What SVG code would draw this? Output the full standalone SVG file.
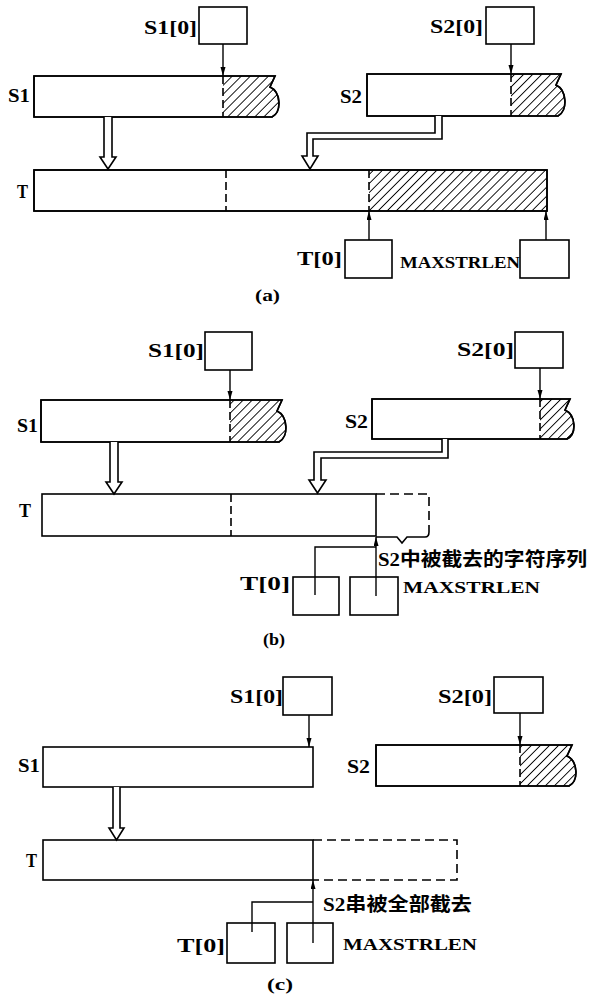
<svg xmlns="http://www.w3.org/2000/svg" width="589" height="997" viewBox="0 0 589 997">
<style>
.box{fill:#fff;stroke:#000;stroke-width:1.6}
.edge{fill:none;stroke:#000;stroke-width:1.6}
.hatch{fill:url(#hatch);stroke:none}
.div{fill:none;stroke:#000;stroke-width:1.6;stroke-dasharray:8 4}
.dash{fill:none;stroke:#000;stroke-width:1.6;stroke-dasharray:9 5}
.ptr{fill:none;stroke:#000;stroke-width:1.4}
.ptra{fill:none;stroke:#000;stroke-width:1.4;marker-end:url(#ah)}
.hollow{fill:#fff;stroke:#000;stroke-width:1.6;stroke-linejoin:miter}
.lbl{font-family:"Liberation Serif","Noto Sans CJK SC",serif;font-weight:bold;font-size:18px;fill:#000}
.big{font-size:16px}
.cjk{font-family:"Liberation Serif","Noto Sans CJK SC",sans-serif;font-weight:bold;font-size:19px;fill:#000}
.cap{font-family:"Liberation Serif",serif;font-weight:bold;font-size:16px;fill:#000}
</style>
<defs>
<pattern id="hatch" patternUnits="userSpaceOnUse" width="6.4" height="10" patternTransform="rotate(45)">
<line x1="0" y1="0" x2="0" y2="10" stroke="#000" stroke-width="1.8"/>
</pattern>
<marker id="ah" markerUnits="userSpaceOnUse" markerWidth="10" markerHeight="6" refX="9" refY="2.5" orient="auto">
<path d="M0,0 L9,2.5 L0,5 Z" fill="#000"/>
</marker>
</defs>

<!-- ===== Panel (a) ===== -->
<g id="a-S1">
<path class="box" d="M34,76 H275 L270,87 C281,92 282,112 272,117 H34 Z"/>
<path class="hatch" d="M223,76 H275 L270,87 C281,92 282,112 272,117 H223 Z"/>
<path class="edge" d="M34,76 H275 L270,87 C281,92 282,112 272,117 H34 Z"/>
<line class="div" x1="223" y1="76" x2="223" y2="117"/>
<text class="lbl" x="8" y="102" textLength="22" lengthAdjust="spacingAndGlyphs">S1</text>
</g>
<g id="a-S1ptr">
<rect class="box" x="199" y="7" width="48" height="37"/>
<text class="lbl" x="144" y="34" textLength="53" lengthAdjust="spacingAndGlyphs">S1[0]</text>
</g>
<g id="a-S2">
<path class="box" d="M367,74 H561 L556,85 C567,90 568,111 558,116 H367 Z"/>
<path class="hatch" d="M511,74 H561 L556,85 C567,90 568,111 558,116 H511 Z"/>
<path class="edge" d="M367,74 H561 L556,85 C567,90 568,111 558,116 H367 Z"/>
<line class="div" x1="511" y1="74" x2="511" y2="116"/>
<text class="lbl" x="340" y="103" textLength="22" lengthAdjust="spacingAndGlyphs">S2</text>
</g>
<g id="a-S2ptr">
<rect class="box" x="486" y="7" width="48" height="37"/>
<text class="lbl" x="430" y="33" textLength="53" lengthAdjust="spacingAndGlyphs">S2[0]</text>
</g>
<g id="a-T">
<rect class="box" x="34" y="170" width="513" height="41"/>
<rect class="hatch" x="369" y="170" width="178" height="41"/>
<rect class="edge" x="34" y="170" width="513" height="41"/>
<line class="div" x1="226" y1="170" x2="226" y2="211"/>
<line class="div" x1="369" y1="170" x2="369" y2="211"/>
<text class="lbl" x="17" y="198" textLength="11" lengthAdjust="spacingAndGlyphs">T</text>
</g>
<g id="a-T0">
<rect class="box" x="345" y="240" width="47" height="38"/>
<text class="lbl" x="297" y="265" textLength="45" lengthAdjust="spacingAndGlyphs">T[0]</text>
</g>
<g id="a-MAX">
<rect class="box" x="520" y="240" width="49" height="38"/>
<text class="lbl big" x="400" y="268" textLength="120" lengthAdjust="spacingAndGlyphs">MAXSTRLEN</text>
</g>
<text class="cap" x="255" y="301" textLength="25" lengthAdjust="spacingAndGlyphs">(a)</text>

<!-- ===== Panel (b) ===== -->
<g id="b-S1">
<path class="box" d="M41,400 H282 L277,411 C288,416 289,437 279,442 H41 Z"/>
<path class="hatch" d="M230,400 H282 L277,411 C288,416 289,437 279,442 H230 Z"/>
<path class="edge" d="M41,400 H282 L277,411 C288,416 289,437 279,442 H41 Z"/>
<line class="div" x1="230" y1="400" x2="230" y2="442"/>
<text class="lbl" x="17" y="432" textLength="21" lengthAdjust="spacingAndGlyphs">S1</text>
</g>
<g id="b-S1ptr">
<rect class="box" x="205" y="332" width="47" height="38"/>
<text class="lbl" x="148" y="357" textLength="56" lengthAdjust="spacingAndGlyphs">S1[0]</text>
</g>
<g id="b-S2">
<path class="box" d="M372,399 H570 L565,410 C576,415 577,434 567,439 H372 Z"/>
<path class="hatch" d="M540,399 H570 L565,410 C576,415 577,434 567,439 H540 Z"/>
<path class="edge" d="M372,399 H570 L565,410 C576,415 577,434 567,439 H372 Z"/>
<line class="div" x1="540" y1="399" x2="540" y2="439"/>
<text class="lbl" x="345" y="428" textLength="23" lengthAdjust="spacingAndGlyphs">S2</text>
</g>
<g id="b-S2ptr">
<rect class="box" x="515" y="332" width="48" height="36"/>
<text class="lbl" x="457" y="356" textLength="57" lengthAdjust="spacingAndGlyphs">S2[0]</text>
</g>
<g id="b-T">
<rect class="box" x="42" y="494" width="334" height="42"/>
<line class="div" x1="231" y1="494" x2="231" y2="536"/>
<path class="dash" d="M376,494 H429 V532"/>
<path class="edge" d="M376,537 H397 L402,543 L407,537 H425 Q429,537 429,532"/>
<text class="lbl" x="19" y="517" textLength="12" lengthAdjust="spacingAndGlyphs">T</text>
</g>
<g id="b-T0">
<rect class="box" x="293" y="577" width="46" height="38"/>
<text class="lbl" x="240" y="590" textLength="50" lengthAdjust="spacingAndGlyphs">T[0]</text>
</g>
<g id="b-MAX">
<rect class="box" x="350" y="577" width="48" height="38"/>
<text class="lbl big" x="403" y="593" textLength="137" lengthAdjust="spacingAndGlyphs">MAXSTRLEN</text>
</g>
<text class="cjk" x="378" y="566" textLength="209" lengthAdjust="spacingAndGlyphs">S2中被截去的字符序列</text>
<text class="cap" x="263" y="645" textLength="22" lengthAdjust="spacingAndGlyphs">(b)</text>

<!-- ===== Panel (c) ===== -->
<g id="c-S1">
<rect class="box" x="43" y="747" width="270" height="40"/>
<text class="lbl" x="18" y="772" textLength="22" lengthAdjust="spacingAndGlyphs">S1</text>
</g>
<g id="c-S1ptr">
<rect class="box" x="283" y="677" width="49" height="38"/>
<text class="lbl" x="230" y="703" textLength="53" lengthAdjust="spacingAndGlyphs">S1[0]</text>
</g>
<g id="c-S2">
<path class="box" d="M376,745 H572 L567,756 C578,761 579,781 569,786 H376 Z"/>
<path class="hatch" d="M520,745 H572 L567,756 C578,761 579,781 569,786 H520 Z"/>
<path class="edge" d="M376,745 H572 L567,756 C578,761 579,781 569,786 H376 Z"/>
<line class="div" x1="520" y1="745" x2="520" y2="786"/>
<text class="lbl" x="347" y="773" textLength="23" lengthAdjust="spacingAndGlyphs">S2</text>
</g>
<g id="c-S2ptr">
<rect class="box" x="494" y="677" width="49" height="36"/>
<text class="lbl" x="438" y="703" textLength="54" lengthAdjust="spacingAndGlyphs">S2[0]</text>
</g>
<g id="c-T">
<rect class="box" x="43" y="840" width="270" height="40"/>
<path class="dash" d="M313,840 H457 V880 H313"/>
<text class="lbl" x="26" y="867" textLength="11" lengthAdjust="spacingAndGlyphs">T</text>
</g>
<g id="c-T0">
<rect class="box" x="227" y="923" width="48" height="40"/>
<text class="lbl" x="177" y="952" textLength="48" lengthAdjust="spacingAndGlyphs">T[0]</text>
</g>
<g id="c-MAX">
<rect class="box" x="287" y="923" width="46" height="40"/>
<text class="lbl big" x="343" y="950" textLength="134" lengthAdjust="spacingAndGlyphs">MAXSTRLEN</text>
</g>
<text class="cjk" x="323" y="911" textLength="149" lengthAdjust="spacingAndGlyphs">S2串被全部截去</text>
<text class="cap" x="267" y="990" textLength="26" lengthAdjust="spacingAndGlyphs">(c)</text>

<!-- ===== Connectors ===== -->
<g id="connectors">
<!-- (a) -->
<line class="ptra" x1="223" y1="44" x2="223" y2="76"/>
<line class="ptra" x1="511" y1="44" x2="511" y2="74"/>
<line class="ptra" x1="369" y1="240" x2="369" y2="211"/>
<line class="ptra" x1="546" y1="240" x2="546" y2="211"/>
<path class="hollow" d="M104,117 V157 H100 L108,169 L116,157 H112 V117"/>
<path class="hollow" d="M435,116 V133 H307 V156 H302 L310,169 L318,156 H313 V139 H442 V116"/>
<!-- (b) -->
<line class="ptra" x1="230" y1="370" x2="230" y2="400"/>
<line class="ptra" x1="540" y1="368" x2="540" y2="399"/>
<line class="ptra" x1="376" y1="596" x2="376" y2="537"/>
<path class="ptr" d="M315,595 V547 H376"/>
<path class="hollow" d="M110,442 V482 H106 L114,494 L122,482 H118 V442"/>
<path class="hollow" d="M442,439 V452 H314 V480 H309 L317.5,493 L326,480 H321 V458 H448 V439"/>
<!-- (c) -->
<line class="ptra" x1="309" y1="715" x2="309" y2="747"/>
<line class="ptra" x1="520" y1="713" x2="520" y2="745"/>
<line class="ptra" x1="313" y1="943" x2="313" y2="880"/>
<path class="ptr" d="M252,932 V902 H313"/>
<path class="hollow" d="M113,787 V828 H109 L116.5,840 L124,828 H120 V787"/>
</g>
</svg>
